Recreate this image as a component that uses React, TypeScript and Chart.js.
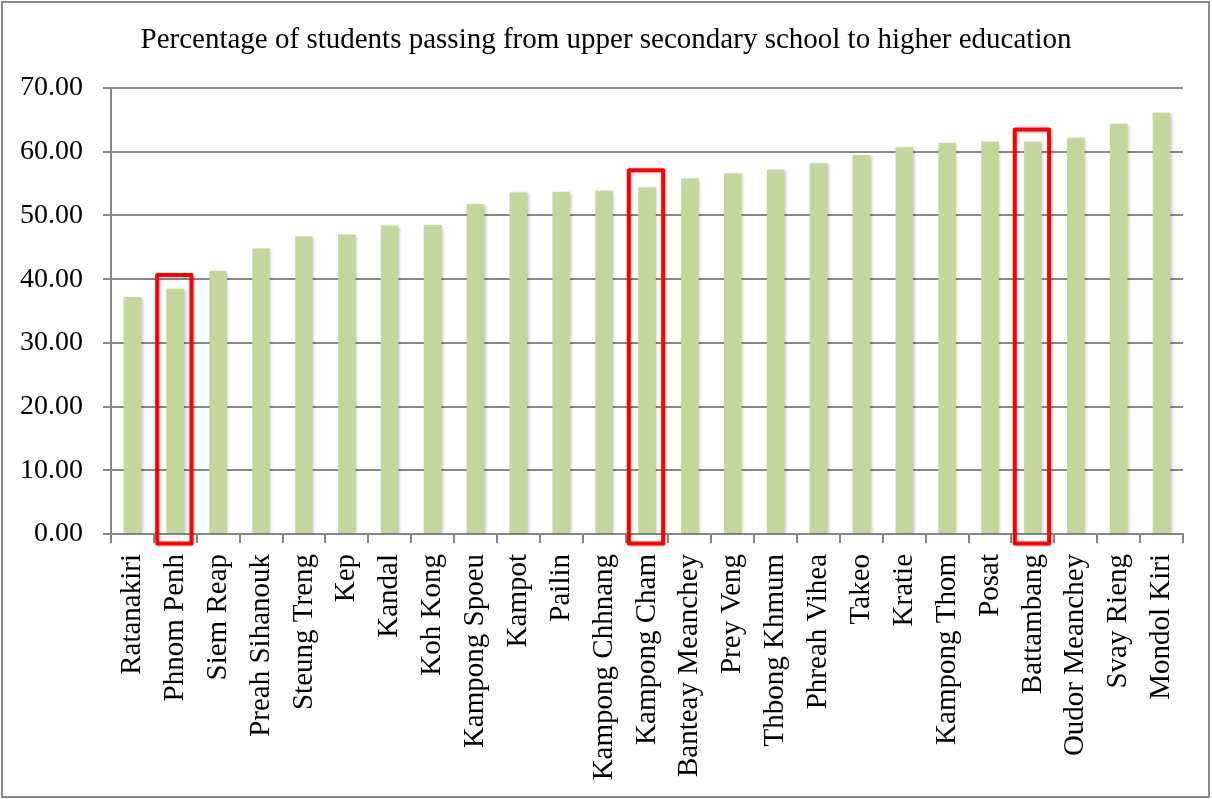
import React, { useEffect, useRef } from "react";
import { Chart, registerables } from "chart.js";

Chart.register(...registerables);

const provinces: string[] = [
  "Ratanakiri", "Phnom Penh", "Siem Reap", "Preah Sihanouk", "Steung Treng",
  "Kep", "Kandal", "Koh Kong", "Kampong Spoeu", "Kampot", "Pailin",
  "Kampong Chhnang", "Kampong Cham", "Banteay Meanchey", "Prey Veng",
  "Thbong Khmum", "Phreah Vihea", "Takeo", "Kratie", "Kampong Thom",
  "Posat", "Battambang", "Oudor Meanchey", "Svay Rieng", "Mondol Kiri",
];

const passRates: number[] = [
  37.2, 38.5, 41.3, 44.8, 46.7, 47.0, 48.4, 48.5, 51.8, 53.6, 53.7, 53.9,
  54.4, 55.8, 56.6, 57.2, 58.2, 59.5, 60.7, 61.4, 61.6, 61.6, 62.2, 64.4, 66.1,
];

const highlighted: string[] = ["Phnom Penh", "Kampong Cham", "Battambang"];
const highlightTops: number[] = [40.65, 57.1, 63.5];
const highlightBottom = -1.5;

const yTicks: number[] = [0, 10, 20, 30, 40, 50, 60, 70];

const titleText = "Percentage of students passing from upper secondary school to higher education";

const GRID = "#878787";
const SERIF = "'Liberation Serif', 'Times New Roman', serif";

export default function App() {
  const ref = useRef<HTMLCanvasElement | null>(null);

  useEffect(() => {
    document.body.style.margin = "0";
    const canvas = ref.current;
    if (!canvas) return;

    const framePlugin = {
      id: "frame",
      afterLayout(chart: any) {
        const t = chart.titleBlock;
        if (t) {
          t.left = 0;
          t.right = chart.width;
          t.width = chart.width;
        }
      },
      beforeDraw(chart: any) {
        const c = chart.ctx;
        c.save();
        c.fillStyle = "#ffffff";
        c.fillRect(0, 0, chart.width, chart.height);
        c.restore();
      },
      afterDraw(chart: any) {
        const c = chart.ctx;
        c.save();
        c.strokeStyle = "#8a8a8a";
        c.lineWidth = 2;
        c.strokeRect(2, 2, chart.width - 5, chart.height - 4);
        c.restore();
      },
    };

    const shadowPlugin = {
      id: "barShadow",
      beforeDatasetDraw(chart: any) {
        const c = chart.ctx;
        c.save();
        c.shadowColor = "rgba(0,0,0,0.22)";
        c.shadowBlur = 3;
        c.shadowOffsetX = 1.5;
        c.shadowOffsetY = 1;
      },
      afterDatasetDraw(chart: any) {
        chart.ctx.restore();
      },
    };

    const boxPlugin = {
      id: "highlightBoxes",
      afterDatasetsDraw(chart: any) {
        const xs = chart.scales.x;
        const ys = chart.scales.y;
        const c = chart.ctx;
        const cw = xs.width / provinces.length;
        c.save();
        c.strokeStyle = "#ff0000";
        c.lineWidth = 4;
        c.lineJoin = "round";
        c.shadowColor = "rgba(0,0,0,0.25)";
        c.shadowBlur = 3;
        c.shadowOffsetX = 1;
        c.shadowOffsetY = 1;
        highlighted.forEach((name, i) => {
          const idx = provinces.indexOf(name);
          const cx = xs.getPixelForValue(idx) - 1;
          const half = cw * 0.4;
          const top = ys.getPixelForValue(highlightTops[i]);
          const bottom = ys.getPixelForValue(highlightBottom);
          c.beginPath();
          c.rect(cx - half, top, half * 2, bottom - top);
          c.stroke();
        });
        c.restore();
      },
    };

    const chart = new Chart(canvas, {
      type: "bar",
      data: {
        labels: provinces,
        datasets: [
          {
            data: passRates,
            backgroundColor: "#c3d69b",
            borderWidth: 0,
            barPercentage: 0.41,
            categoryPercentage: 1,
          },
        ],
      },
      options: {
        animation: false,
        responsive: false,
        devicePixelRatio: 1,
        layout: { padding: { left: 0, right: 29, top: 0, bottom: 0 } },
        plugins: {
          legend: { display: false },
          tooltip: { enabled: false },
          title: {
            display: true,
            text: titleText,
            color: "#000000",
            font: { family: SERIF, size: 29, weight: "normal", lineHeight: 1.2 },
            padding: { top: 23, bottom: 30.2 },
          },
        },
        scales: {
          x: {
            grid: {
              offset: true,
              drawOnChartArea: false,
              drawTicks: true,
              tickLength: 9,
              color: GRID,
              lineWidth: 2,
            },
            border: { display: true, color: GRID, width: 2 },
            ticks: {
              autoSkip: false,
              minRotation: 90,
              maxRotation: 90,
              padding: 11,
              color: "#000000",
              font: { family: SERIF, size: 29 },
            },
            afterFit(scale: any) {
              scale.height = 265;
            },
          },
          y: {
            min: 0,
            max: 70,
            afterBuildTicks(scale: any) {
              scale.ticks = yTicks.map((v) => ({ value: v }));
            },
            grid: {
              color: GRID,
              lineWidth: 2,
              drawTicks: true,
              tickLength: 8,
            },
            border: { display: true, color: GRID, width: 2 },
            ticks: {
              padding: 20,
              color: "#000000",
              font: { family: SERIF, size: 28 },
              callback: (v: any) => Number(v).toFixed(2),
            },
            afterFit(scale: any) {
              scale.width = 111;
            },
          },
        },
      },
      plugins: [framePlugin, shadowPlugin, boxPlugin],
    } as any);

    return () => chart.destroy();
  }, []);

  return (
    <div style={{ position: "absolute", left: 0, top: 0, width: 1212, height: 799 }}>
      <canvas ref={ref} width={1212} height={799} style={{ width: 1212, height: 799, display: "block" }} />
    </div>
  );
}
